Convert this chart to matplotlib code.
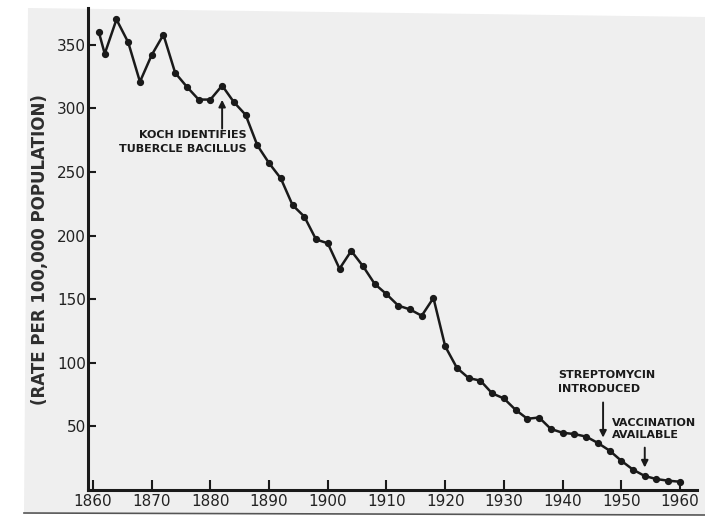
import matplotlib
matplotlib.use("Agg")
from matplotlib import pyplot as plt
from matplotlib.patches import Polygon
from matplotlib.lines import Line2D

# tuberculosis death rate
years = [1861, 1862, 1864, 1866, 1868, 1870, 1872, 1874, 1876, 1878,
         1880, 1882, 1884, 1886, 1888, 1890, 1892, 1894, 1896, 1898,
         1900, 1902, 1904, 1906, 1908, 1910, 1912, 1914, 1916, 1918,
         1920, 1922, 1924, 1926, 1928, 1930, 1932, 1934, 1936, 1938,
         1940, 1942, 1944, 1946, 1948, 1950, 1952, 1954, 1956, 1958, 1960]
rates = [360, 343, 370, 352, 321, 342, 358, 328, 317, 307,
         307, 318, 305, 295, 271, 257, 245, 224, 215, 197,
         194, 174, 188, 176, 162, 154, 145, 142, 137, 151,
         113, 96, 88, 86, 76, 72, 63, 56, 57, 48,
         45, 44, 42, 37, 31, 23, 16, 11, 8.6, 7.3, 6.5]

x_ticks = list(range(1860, 1961, 10))
y_ticks = [50, 100, 150, 200, 250, 300, 350]

fig = plt.figure(figsize=(7.05, 5.18), dpi=100)
fig.patch.set_facecolor("white")

# scanned paper behind the chart
W, H = 705.0, 518.0
paper = Polygon([(28/W, 1-8/H), (705/W, 1-17/H), (705/W, 1-514/H), (24/W, 1-512/H)],
                closed=True, transform=fig.transFigure, facecolor="#efefef",
                edgecolor="none", zorder=-5)
fig.patches.append(paper)
fig.lines.append(Line2D([24/W, 705/W], [1-513/H, 1-515/H], transform=fig.transFigure,
                        color="#555555", lw=1.2, zorder=-4))

ax = fig.add_axes([88/W, 28/H, 609/W, 482/H])
ax.patch.set_alpha(0)

ax.plot(years, rates, color="#1a1a1a", lw=1.8, marker="o", markersize=4.2,
        markerfacecolor="#1a1a1a", markeredgecolor="#1a1a1a")

ax.set_xlim(1859.15, 1962.9)
ax.set_ylim(0, 379)
ax.set_xticks(x_ticks)
ax.set_yticks(y_ticks)
ax.set_xticklabels([str(t) for t in x_ticks], fontsize=11, color="#222222")
ax.set_yticklabels([str(t) for t in y_ticks], fontsize=11, color="#222222")

for s in ["top", "right"]:
    ax.spines[s].set_visible(False)
for s in ["left", "bottom"]:
    ax.spines[s].set_linewidth(2.2)
    ax.spines[s].set_color("#1a1a1a")
ax.tick_params(axis="x", direction="in", length=7, width=1.5, pad=3, color="#1a1a1a")
ax.tick_params(axis="y", direction="in", length=6, width=1.5, pad=1.5, color="#1a1a1a")

ax.text(-0.079, 0.498, "(RATE PER 100,000 POPULATION)", transform=ax.transAxes,
        rotation=90, ha="center", va="center", fontsize=12, fontweight="bold",
        color="#2e2e2e")

# annotations
ax.text(1886.2, 283, "KOCH IDENTIFIES\nTUBERCLE BACILLUS", ha="right", va="top",
        fontsize=8, fontweight="bold", linespacing=1.45, color="#1a1a1a")
ax.annotate("", xy=(1882, 309), xytext=(1882, 282),
            arrowprops=dict(arrowstyle="-|>", color="#1a1a1a", lw=1.4, mutation_scale=10))

ax.text(1939.2, 94, "STREPTOMYCIN\nINTRODUCED", ha="left", va="top",
        fontsize=8, fontweight="bold", linespacing=1.4, color="#1a1a1a")
ax.annotate("", xy=(1946.9, 39), xytext=(1946.9, 71),
            arrowprops=dict(arrowstyle="-|>", color="#1a1a1a", lw=1.4, mutation_scale=10))

ax.text(1948.4, 57, "VACCINATION\nAVAILABLE", ha="left", va="top",
        fontsize=8, fontweight="bold", linespacing=1.3, color="#1a1a1a")
ax.annotate("", xy=(1954, 15.5), xytext=(1954, 35.5),
            arrowprops=dict(arrowstyle="-|>", color="#1a1a1a", lw=1.4, mutation_scale=10))

plt.savefig("out.png", dpi=100, facecolor=fig.get_facecolor())
